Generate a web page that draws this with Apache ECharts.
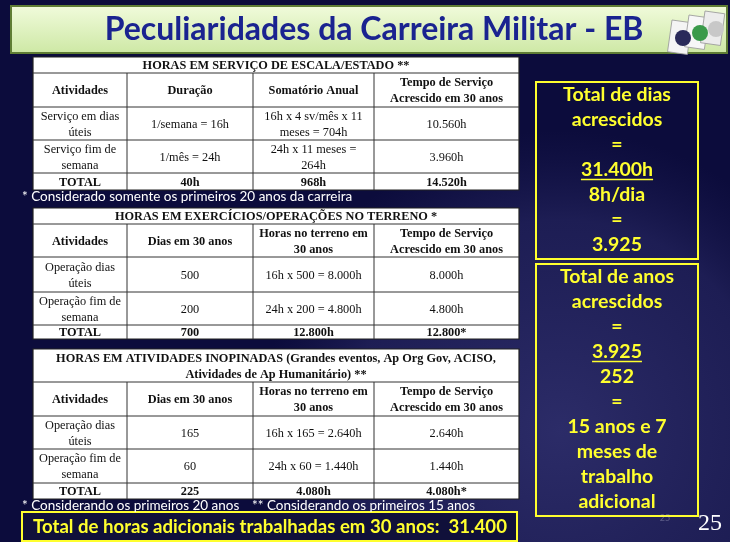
<!DOCTYPE html>
<html>
<head>
<meta charset="utf-8">
<script src="https://cdn.jsdelivr.net/npm/echarts@6/dist/echarts.min.js"></script>
<style>
  html, body { margin: 0; padding: 0; background: #0c0c3c; }
  #slide { width: 730px; height: 542px; }
</style>
</head>
<body>
<div id="slide"></div>
<script>
// dados do slide
var titulo = 'Peculiaridades da Carreira Militar - EB';

var t1Titulo = 'HORAS EM SERVIÇO DE ESCALA/ESTADO **';
var t1Cabecalho = ['Atividades', 'Duração', 'Somatório Anual', 'Tempo de Serviço\nAcrescido em 30 anos'];
var t1Linhas = [
  ['Serviço em dias\núteis', '1/semana = 16h', '16h x 4 sv/mês x 11\nmeses = 704h', '10.560h'],
  ['Serviço fim de\nsemana', '1/mês = 24h', '24h x 11 meses =\n264h', '3.960h']
];
var t1Total = ['TOTAL', '40h', '968h', '14.520h'];
var t1Nota = '* Considerado somente os primeiros 20 anos da carreira';

var t2Titulo = 'HORAS EM EXERCÍCIOS/OPERAÇÕES NO TERRENO *';
var t2Cabecalho = ['Atividades', 'Dias em 30 anos', 'Horas no terreno em\n30 anos', 'Tempo de Serviço\nAcrescido em 30 anos'];
var t2Linhas = [
  ['Operação dias\núteis', '500', '16h x 500 = 8.000h', '8.000h'],
  ['Operação fim de\nsemana', '200', '24h x 200 = 4.800h', '4.800h']
];
var t2Total = ['TOTAL', '700', '12.800h', '12.800*'];

var t3Titulo = 'HORAS EM ATIVIDADES INOPINADAS (Grandes eventos, Ap Org Gov, ACISO,\nAtividades de Ap Humanitário) **';
var t3Cabecalho = ['Atividades', 'Dias em 30 anos', 'Horas no terreno em\n30 anos', 'Tempo de Serviço\nAcrescido em 30 anos'];
var t3Linhas = [
  ['Operação dias\núteis', '165', '16h x 165 = 2.640h', '2.640h'],
  ['Operação fim de\nsemana', '60', '24h x 60 = 1.440h', '1.440h']
];
var t3Total = ['TOTAL', '225', '4.080h', '4.080h*'];
var t3Notas = ['* Considerando os primeiros 20 anos', '** Considerando os primeiros 15 anos'];

var totalHoras = 'Total de horas adicionais trabalhadas em 30 anos:  31.400';

var caixa1Linhas = ['Total de dias', 'acrescidos', '=', '31.400h', '8h/dia', '=', '3.925'];
var caixa2Linhas = ['Total de anos', 'acrescidos', '=', '3.925', '252', '=', '15 anos e 7', 'meses de', 'trabalho', 'adicional'];
var indiceSublinhado = 3; // numerador sublinhado nas duas caixas
var numeroPagina = '25';

// layout
var colunas = [33, 127, 253, 374, 519];
var linhasT1 = [57, 73, 107, 140, 173, 190];
var linhasT2 = [208, 224, 257, 292, 325, 339];
var linhasT3 = [349, 382, 416, 449, 483, 499];

var serif = '"Liberation Serif", "DejaVu Serif", serif';
var sans = 'Lato, "DejaVu Sans", sans-serif';
var amarelo = '#ffff2e';

var medidor = document.createElement('canvas').getContext('2d');
function largura(str, font) { medidor.font = font; return medidor.measureText(str).width; }

var elementos = [];

function texto(str, x, y, font, cor, align) {
  return {
    type: 'text', x: x, y: y, z: 10,
    style: {
      text: str, font: font, fill: cor,
      align: align || 'center', textAlign: align || 'center',
      verticalAlign: 'middle', textVerticalAlign: 'middle',
      lineHeight: 16
    }
  };
}

function linha(x1, y1, x2, y2, cor, w) {
  return { type: 'line', z: 8, shape: { x1: x1, y1: y1, x2: x2, y2: y2 }, style: { stroke: cor, lineWidth: w } };
}

function tabela(tit, cab, linhas, total, ys) {
  var x0 = colunas[0], x1 = colunas[colunas.length - 1];
  elementos.push({ type: 'rect', z: 5, shape: { x: x0, y: ys[0], width: x1 - x0, height: ys[ys.length - 1] - ys[0] },
    style: { fill: '#ffffff', stroke: '#222', lineWidth: 1.2 } });
  for (var i = 1; i < ys.length - 1; i++) elementos.push(linha(x0, ys[i], x1, ys[i], '#333', 1));
  for (var c = 1; c < colunas.length - 1; c++) elementos.push(linha(colunas[c], ys[1], colunas[c], ys[ys.length - 1], '#333', 1));
  var fb = 'bold 12.3px ' + serif, fr = '12.3px ' + serif;
  elementos.push(texto(tit, (x0 + x1) / 2, (ys[0] + ys[1]) / 2 + 1, fb, '#111'));
  var todas = [cab].concat(linhas).concat([total]);
  todas.forEach(function (row, r) {
    var bold = (r === 0 || r === todas.length - 1);
    row.forEach(function (cel, c) {
      var cx = (colunas[c] + colunas[c + 1]) / 2;
      var cy = (ys[r + 1] + ys[r + 2]) / 2 + 1;
      elementos.push(texto(cel, cx, cy, bold ? fb : fr, '#111'));
    });
  });
}

// fundo com marca d'agua
elementos.push({ type: 'circle', z: 0, shape: { cx: 560, cy: 430, r: 300 },
  style: { fill: { type: 'radial', x: 0.5, y: 0.5, r: 0.5,
    colorStops: [{ offset: 0, color: 'rgba(70,70,140,0.55)' }, { offset: 0.7, color: 'rgba(55,55,120,0.4)' }, { offset: 1, color: 'rgba(40,40,100,0)' }] } } });

// faixa do titulo
elementos.push({ type: 'rect', z: 2, shape: { x: 11, y: 6, width: 716, height: 47 },
  style: { fill: { type: 'linear', x: 0, y: 0, x2: 0, y2: 1,
    colorStops: [{ offset: 0, color: '#f1fbdc' }, { offset: 1, color: '#cde8a4' }] }, stroke: '#5f7d34', lineWidth: 2 } });
elementos.push(texto(titulo, 374, 30, 'bold 32px ' + sans, '#1a2390'));

// logos
[[672, 20, -8, '#f4f4f4', '#2a2a5a'], [689, 15, -8, '#f7f7f7', '#3a9a4a'], [705, 11, -8, '#ececec', '#c8c8c8']].forEach(function (l) {
  elementos.push({ type: 'rect', z: 3, x: l[0], y: l[1], rotation: l[2] * Math.PI / 180,
    shape: { x: 0, y: 0, width: 20, height: 32 }, style: { fill: l[3], stroke: '#999', lineWidth: 0.8 } });
  elementos.push({ type: 'circle', z: 4, shape: { cx: l[0] + 11, cy: l[1] + 18, r: 8 }, style: { fill: l[4] } });
});

tabela(t1Titulo, t1Cabecalho, t1Linhas, t1Total, linhasT1);
tabela(t2Titulo, t2Cabecalho, t2Linhas, t2Total, linhasT2);
tabela(t3Titulo, t3Cabecalho, t3Linhas, t3Total, linhasT3);

var fNota = '13.5px ' + sans;
elementos.push(texto(t1Nota, 22, 197, fNota, '#ffffff', 'left'));
elementos.push(texto(t3Notas[0], 22, 506, fNota, '#ffffff', 'left'));
elementos.push(texto(t3Notas[1], 252, 506, fNota, '#ffffff', 'left'));

// caixa total de horas
elementos.push({ type: 'rect', z: 5, shape: { x: 22, y: 512, width: 495, height: 29 },
  style: { fill: '#10103a', stroke: amarelo, lineWidth: 2 } });
elementos.push(texto(totalHoras, 270, 527, 'bold 18.6px ' + sans, amarelo));

// caixas da direita
function caixa(linhas, y0, y1, primeiroY) {
  elementos.push({ type: 'rect', z: 5, shape: { x: 536, y: y0, width: 162, height: y1 - y0 },
    style: { fill: 'rgba(0,0,0,0)', stroke: amarelo, lineWidth: 2 } });
  var f = 'bold 19.5px ' + sans;
  linhas.forEach(function (s, i) {
    var y = primeiroY + i * 25;
    elementos.push(texto(s, 617, y, f, amarelo));
    if (i === indiceSublinhado) {
      var w = largura(s, f);
      elementos.push(linha(617 - w / 2, y + 9.5, 617 + w / 2, y + 9.5, amarelo, 1.5));
    }
  });
}
caixa(caixa1Linhas, 82, 259, 95);
caixa(caixa2Linhas, 264, 516, 277);

// numero da pagina
elementos.push(texto(numeroPagina, 665, 518, '9px ' + sans, 'rgba(200,200,220,0.35)'));
elementos.push(texto(numeroPagina, 710, 524, '24px ' + serif, '#ffffff'));

var chart = echarts.init(document.getElementById('slide'));
chart.setOption({
  backgroundColor: '#0c0c3c',
  animation: false,
  graphic: { elements: elementos }
});
window.addEventListener('resize', function () { chart.resize(); });
</script>
</body>
</html>
